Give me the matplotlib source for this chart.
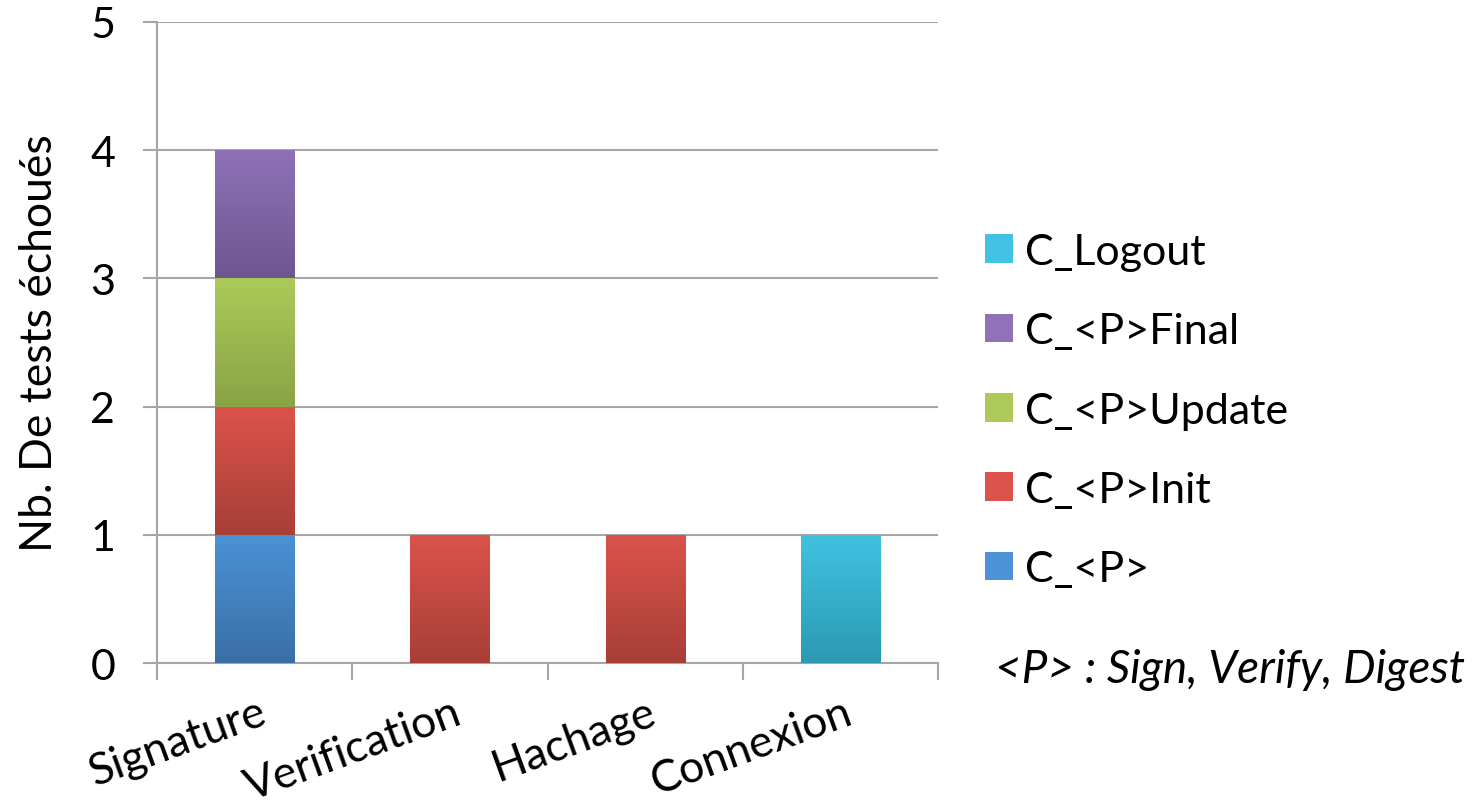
import matplotlib
matplotlib.use("Agg")
import matplotlib.pyplot as plt
import numpy as np
from matplotlib.colors import LinearSegmentedColormap
from matplotlib.patches import Patch

plt.rcParams.update({
    "font.family": ["Lato", "DejaVu Sans"],
    "font.size": 31,
})

# ---- data -------------------------------------------------------------------
categories = ["Signature", "Verification", "Hachage", "Connexion"]
series_names = ["C_<P>", "C_<P>Init", "C_<P>Update", "C_<P>Final", "C_Logout"]
s_p = [1, 0, 0, 0]
s_init = [1, 1, 1, 0]
s_update = [1, 0, 0, 0]
s_final = [1, 0, 0, 0]
s_logout = [0, 0, 0, 1]
series_values = [s_p, s_init, s_update, s_final, s_logout]
yticks = [0, 1, 2, 3, 4, 5]
note = "<P> : Sign, Verify, Digest"

# (top colour, bottom colour) for the gradient fill
grad = [
    ("#4b92d6", "#3a6fa6"),
    ("#db534a", "#a83f37"),
    ("#acca59", "#89a346"),
    ("#8f72b8", "#6e5691"),
    ("#41c2e2", "#2b9ab2"),
]

fig = plt.figure(figsize=(14.74, 8.03), dpi=100)
ax = fig.add_axes([0.1065, 0.1731, 0.5299, 0.7983])

x = np.arange(len(categories))
bottom = np.zeros(len(categories))
for name, vals, (ctop, cbot) in zip(series_names, series_values, grad):
    vals = np.array(vals, dtype=float)
    bars = ax.bar(x, vals, width=0.405, bottom=bottom, color=cbot,
                  linewidth=0, zorder=3)
    cmap = LinearSegmentedColormap.from_list(name, [cbot, ctop])
    for b, v in zip(bars, vals):
        if v <= 0:
            continue
        x0, y0 = b.get_x(), b.get_y()
        w, h = b.get_width(), b.get_height()
        im = ax.imshow(np.linspace(0, 1, 256).reshape(-1, 1), cmap=cmap,
                       origin="lower", aspect="auto",
                       extent=[x0, x0 + w, y0, y0 + h], zorder=3.5)
        im.set_clip_path(b)
    bottom += vals

ax.set_xlim(-0.5, len(categories) - 0.5)
ax.set_ylim(0, 5)
ax.set_yticks(yticks)
ax.set_yticklabels([str(t) for t in yticks], fontsize=31)
ax.set_ylabel("Nb. De tests échoués", fontsize=32, labelpad=22)

ax.yaxis.grid(True, color="#a6a6a6", linewidth=1.5, zorder=0)
ax.set_axisbelow(True)
for s in ["top", "right"]:
    ax.spines[s].set_visible(False)
for s in ["left", "bottom"]:
    ax.spines[s].set_color("#a6a6a6")
    ax.spines[s].set_linewidth(1.5)

ax.tick_params(axis="y", length=10, width=1.5, color="#a6a6a6", pad=20)
# x ticks at category boundaries
ax.set_xticks(np.arange(len(categories) + 1) - 0.5)
ax.set_xticklabels([])
ax.tick_params(axis="x", length=12, width=1.5, color="#a6a6a6")
for xi, lab in zip(x, categories):
    ax.text(xi + 0.05, -0.37, lab, rotation=20, rotation_mode="anchor",
            ha="right", va="center", fontsize=32, transform=ax.transData)

handles = [Patch(facecolor=c[0], edgecolor="none", label=n)
           for n, c in zip(series_names, grad)]
leg = fig.legend(handles[::-1], series_names[::-1], loc="center left",
                 bbox_to_anchor=(0.668, 0.4875), frameon=False, fontsize=31,
                 handlelength=0.65, handleheight=0.65, handletextpad=0.28,
                 labelspacing=0.96, borderpad=0, borderaxespad=0)

fig.text(0.675, 0.1656, note, fontsize=33, style="italic", ha="left",
         va="center")

fig.savefig("out.png", dpi=100)
